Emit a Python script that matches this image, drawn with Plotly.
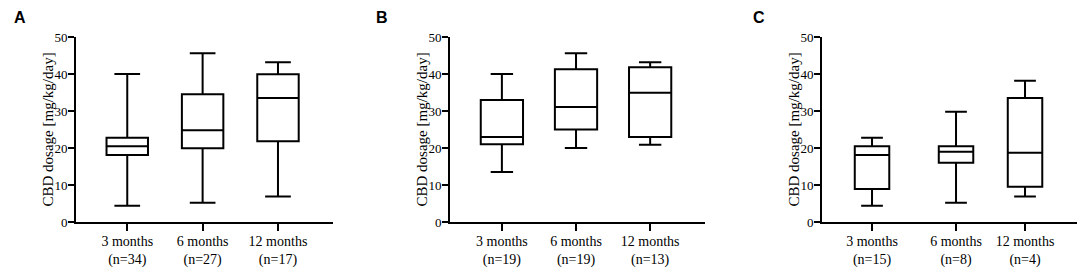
import plotly.graph_objects as go

# ---- data ----
categories = ["3 months", "6 months", "12 months"]
n_A = [34, 27, 17]
n_B = [19, 19, 13]
n_C = [15, 8, 4]

low_A = [4.4, 5.2, 6.9]
q1_A = [18.1, 19.9, 21.8]
med_A = [20.5, 24.8, 33.5]
q3_A = [22.8, 34.5, 39.9]
high_A = [40.0, 45.6, 43.2]

low_B = [13.5, 20.0, 20.9]
q1_B = [21.0, 25.0, 23.0]
med_B = [23.0, 31.1, 34.9]
q3_B = [33.0, 41.3, 41.8]
high_B = [40.0, 45.6, 43.2]

low_C = [4.4, 5.2, 6.9]
q1_C = [8.9, 16.0, 9.5]
med_C = [18.1, 19.0, 18.7]
q3_C = [20.5, 20.5, 33.5]
high_C = [22.8, 29.8, 38.2]

y_ticks = [0, 10, 20, 30, 40, 50]

# category positions (layout) per panel
pos_AB = [0, 1, 2]
pos_C = [0, 1.12, 2.04]

W, H = 1084, 273
serif = "Liberation Serif"
sans = "Liberation Sans"

panels = [
    dict(name="A", low=low_A, q1=q1_A, med=med_A, q3=q3_A, high=high_A, n=n_A,
         pos=pos_AB, px=(76, 333), rng=[-0.68, 2.73], bw=0.55, ww=0.62, letter_x=20),
    dict(name="B", low=low_B, q1=q1_B, med=med_B, q3=q3_B, high=high_B, n=n_B,
         pos=pos_AB, px=(450, 705), rng=[-0.70, 2.74], bw=0.57, ww=0.53, letter_x=382),
    dict(name="C", low=low_C, q1=q1_C, med=med_C, q3=q3_C, high=high_C, n=n_C,
         pos=pos_C, px=(822, 1077), rng=[-0.667, 2.733], bw=0.46, ww=0.63, letter_x=759),
]

y_top, y_bot = 37, 222
ydom = [1 - y_bot / H, 1 - y_top / H]

fig = go.Figure()
annotations = []
xtickfont = dict(family=serif, size=14, color="black")
ytickfont = dict(family=serif, size=13, color="black")
for i, p in enumerate(panels):
    sfx = "" if i == 0 else str(i + 1)
    fig.add_trace(go.Box(
        x=p["pos"], q1=p["q1"], median=p["med"], q3=p["q3"],
        lowerfence=p["low"], upperfence=p["high"],
        width=p["bw"], whiskerwidth=p["ww"],
        fillcolor="white", line=dict(color="black", width=2),
        boxpoints=False, showlegend=False,
        xaxis="x" + sfx, yaxis="y" + sfx,
    ))
    xdom = [p["px"][0] / W, p["px"][1] / W]
    common_x = dict(domain=xdom, range=p["rng"], anchor="y" + sfx,
                    tickmode="array", tickvals=p["pos"],
                    ticktext=[f"{c}<br>(n={n})" for c, n in zip(categories, p["n"])],
                    showline=True, linecolor="black", linewidth=2,
                    ticks="outside", ticklen=7, tickwidth=2, tickcolor="black",
                    ticklabelstandoff=-2,
                    showgrid=False, zeroline=False, tickfont=xtickfont)
    common_y = dict(domain=ydom, range=[0, 50], anchor="x" + sfx,
                    tickmode="array", tickvals=y_ticks,
                    showline=True, linecolor="black", linewidth=2,
                    ticks="outside", ticklen=6, tickwidth=2, tickcolor="black",
                    ticklabelstandoff=-2,
                    showgrid=False, zeroline=False, tickfont=ytickfont)
    fig.update_layout(**{"xaxis" + sfx: common_x, "yaxis" + sfx: common_y})
    annotations.append(dict(
        text="CBD dosage [mg/kg/day]", textangle=-90,
        x=(p["px"][0] - 29) / W, y=1 - ((y_top + y_bot) / 2) / H,
        xref="paper", yref="paper", xanchor="center", yanchor="middle",
        showarrow=False, font=dict(family=serif, size=15, color="black")))
    annotations.append(dict(
        text="<b>" + p["name"] + "</b>",
        x=p["letter_x"] / W, y=1 - 17 / H, xref="paper", yref="paper",
        xanchor="center", yanchor="middle", showarrow=False,
        font=dict(family=sans, size=16, color="black")))

fig.update_layout(
    template="none",
    width=W, height=H, margin=dict(l=0, r=0, t=0, b=0),
    paper_bgcolor="white", plot_bgcolor="white",
    font=dict(family=serif, size=13, color="black"),
    annotations=annotations,
)

fig.write_html("out.html", config={"displayModeBar": False},
               post_script="document.body.style.margin='0';document.body.style.overflow='hidden';")
